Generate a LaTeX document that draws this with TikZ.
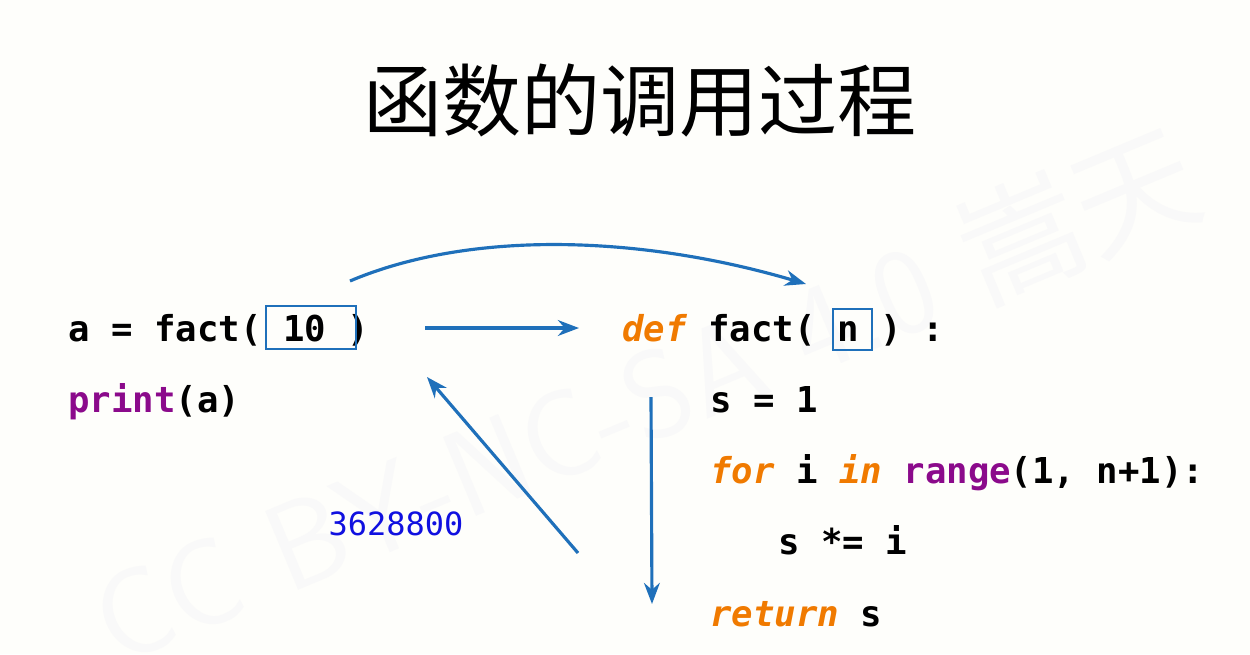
\documentclass[tikz,border=0pt]{standalone}
\usepackage{fontspec}
\setmonofont{DejaVu Sans Mono}
\newfontfamily\cjk{Noto Sans CJK SC}
\usetikzlibrary{arrows.meta}
\definecolor{arr}{HTML}{1F70BA}
\definecolor{kw}{HTML}{F07A00}
\definecolor{fn}{HTML}{8B0A8B}
\definecolor{num}{HTML}{1010E0}
\definecolor{bg}{HTML}{FEFEFB}
\begin{document}
\begin{tikzpicture}[x=0.02cm,y=-0.02cm,
  code/.style={anchor=base west,inner sep=0pt,font=\ttfamily\bfseries\fontsize{20.3}{24}\selectfont},
  conn/.style={draw=arr,line width=1.8pt,-{Stealth[length=12pt,width=9pt]}},
  argbox/.style={draw=arr,line width=1pt}]
\fill[bg] (0,0) rectangle (1250,654);
\useasboundingbox (0,0) rectangle (1250,654);
\node[rotate=22.7,text=gray!5,font=\sffamily\fontsize{70}{75}\selectfont] (wm) at (645,395) {CC BY-NC-SA 4.0 {\cjk 嵩天}};
\node[font=\cjk\fontsize{45}{50}\selectfont] (title) at (640,100) {函数的调用过程};
\node[code] (l1) at (68,341) {a = fact( 10 )};
\node[code] (l2) at (68,412) {\textcolor{fn}{print}(a)};
\node[code] (r1) at (622,341) {\textcolor{kw}{\itshape def} fact( n ) :};
\node[code] (r2) at (710,412) {s = 1};
\node[code] (r3) at (710,483) {\textcolor{kw}{\itshape for} i \textcolor{kw}{\itshape in} \textcolor{fn}{range}(1, n+1):};
\node[code] (r4) at (778,554) {s *= i};
\node[code] (r5) at (710,626) {\textcolor{kw}{\itshape return} s};
\draw[argbox] (266,306) rectangle (356,349);
\draw[argbox] (833,309) rectangle (872,350);
\node[text=num,font=\ttfamily\fontsize{18.2}{22}\selectfont] (res) at (396,524) {3628800};
\coordinate (c1s) at (350,281); \coordinate (c1e) at (806,284);
\draw[conn] (c1s) .. controls (470,230) and (640,235) .. (c1e);
\coordinate (h1) at (425,328); \coordinate (h2) at (579,328);
\draw[conn] (h1) -- (h2);
\coordinate (d1) at (651,397); \coordinate (d2) at (652,604);
\draw[conn] (d1) -- (d2);
\coordinate (u1) at (578,553); \coordinate (u2) at (427,377);
\draw[conn] (u1) -- (u2);
\end{tikzpicture}
\end{document}
